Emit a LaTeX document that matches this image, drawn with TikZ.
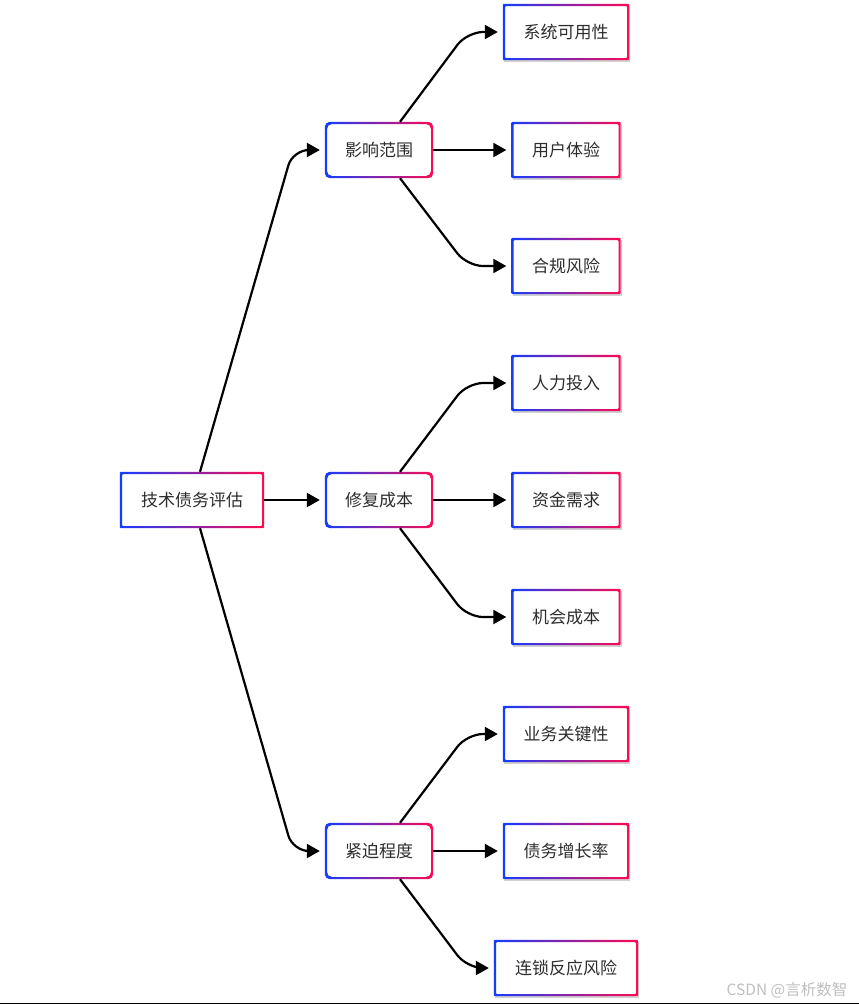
\documentclass[tikz,border=0pt]{standalone}
\usepackage{fontspec}
\setmainfont{Noto Sans CJK SC}
\usetikzlibrary{arrows.meta,shadows}
\definecolor{cb}{RGB}{20,60,255}
\definecolor{cr}{RGB}{255,10,80}
\definecolor{txt}{RGB}{45,45,45}
\newcommand\gframe[2]{%
  \shade[left color=cb, right color=cr, even odd rule, rounded corners=#2]
    (#1.south west) rectangle (#1.north east)
    ([shift={(2.2pt,2.2pt)}]#1.south west) rectangle ([shift={(-2.2pt,-2.2pt)}]#1.north east);}
\begin{document}
\begin{tikzpicture}[x=1pt,y=-1pt,
  box/.style={fill=white, minimum height=56pt, inner sep=0pt, text=txt, font=\fontsize{17}{20}\selectfont},
  rootbox/.style={box, minimum width=144pt},
  midbox/.style={box, minimum width=108pt, rounded corners=5pt},
  leafbox/.style={box, drop shadow={opacity=0.18, shadow xshift=1pt, shadow yshift=-1.5pt, fill=black}},
  conn/.style={line width=2.2pt, -{Triangle[length=13pt,width=14pt]}, rounded corners=16pt, shorten >=5pt}]
\useasboundingbox (0,0) rectangle (859,1005);
\fill[white] (0,0) rectangle (859,1005);

% nodes
\node[rootbox] (root) at (192,500) {技术债务评估};
\node[midbox] (m1) at (379,150) {影响范围};
\node[midbox] (m2) at (379,500) {修复成本};
\node[midbox] (m3) at (379,851) {紧迫程度};

\node[leafbox, minimum width=126pt] (l1) at (566,32) {系统可用性};
\node[leafbox, minimum width=109pt] (l2) at (566,150) {用户体验};
\node[leafbox, minimum width=109pt] (l3) at (566,266) {合规风险};
\node[leafbox, minimum width=109pt] (l4) at (566,383) {人力投入};
\node[leafbox, minimum width=109pt] (l5) at (566,500) {资金需求};
\node[leafbox, minimum width=109pt] (l6) at (566,617) {机会成本};
\node[leafbox, minimum width=126pt] (l7) at (566,734) {业务关键性};
\node[leafbox, minimum width=126pt] (l8) at (566,851) {债务增长率};
\node[leafbox, minimum width=144pt] (l9) at (566,968) {连锁反应风险};

% gradient borders
\gframe{root}{1pt}
\gframe{m1}{5pt}\gframe{m2}{5pt}\gframe{m3}{5pt}
\foreach \n in {l1,l2,l3,l4,l5,l6,l7,l8,l9}{\gframe{\n}{1pt}}

% helper coordinates
\coordinate (k1) at ([xshift=88pt]m1.center);
\coordinate (k2) at ([xshift=88pt]m2.center);
\coordinate (k3) at ([xshift=88pt]m3.center);

% connectors root -> middle
\draw[conn] ([xshift=8pt]root.north) -- ([xshift=-32pt]m1.west) -- (m1.west);
\draw[conn] (root.east) -- (m2.west);
\draw[conn] ([xshift=8pt]root.south) -- ([xshift=-32pt]m3.west) -- (m3.west);

% middle -> leaves
\draw[conn] ([xshift=21pt]m1.north) -- (k1 |- l1.west) -- (l1.west);
\draw[conn] (m1.east) -- (l2.west);
\draw[conn] ([xshift=21pt]m1.south) -- (k1 |- l3.west) -- (l3.west);

\draw[conn] ([xshift=21pt]m2.north) -- (k2 |- l4.west) -- (l4.west);
\draw[conn] (m2.east) -- (l5.west);
\draw[conn] ([xshift=21pt]m2.south) -- (k2 |- l6.west) -- (l6.west);

\draw[conn] ([xshift=21pt]m3.north) -- (k3 |- l7.west) -- (l7.west);
\draw[conn] (m3.east) -- (l8.west);
\draw[conn] ([xshift=21pt]m3.south) -- (k3 |- l9.west) -- (l9.west);

% watermark and bottom rule
\node[text=black!25, font=\fontsize{15.5}{18}\selectfont] (wm) at (787,990) {CSDN @言析数智};
\coordinate (bl) at (0,1003.5);
\coordinate (br) at (859,1003.5);
\draw[line width=1.5pt] (bl) -- (br);
\end{tikzpicture}
\end{document}
